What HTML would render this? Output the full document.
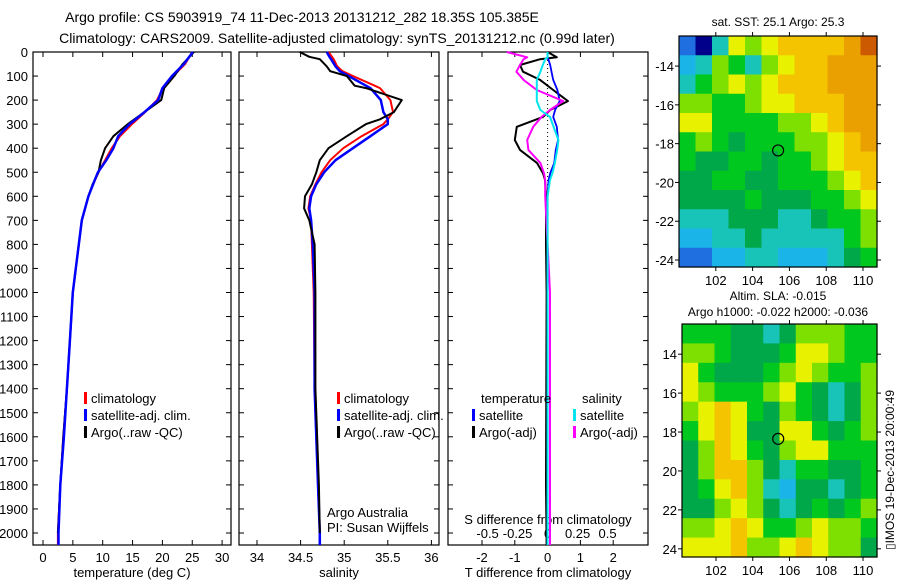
<!DOCTYPE html>
<html><head><meta charset="utf-8"><style>
body{margin:0;background:#fff}
svg{display:block;font-family:"Liberation Sans",sans-serif}
</style></head><body>
<svg id="c" width="900" height="580" viewBox="0 0 900 580" xmlns="http://www.w3.org/2000/svg">
<text x="302" y="22" font-size="14" text-anchor="middle">Argo profile: CS 5903919_74 11-Dec-2013 20131212_282 18.35S 105.385E</text>
<text x="337" y="43" font-size="14" text-anchor="middle">Climatology: CARS2009. Satellite-adjusted climatology: synTS_20131212.nc (0.99d later)</text>
<text x="778" y="26" font-size="12" text-anchor="middle">sat. SST: 25.1  Argo: 25.3</text>
<text x="778" y="300" font-size="12" text-anchor="middle">Altim. SLA: -0.015</text>
<text x="778" y="316" font-size="12" text-anchor="middle">Argo h1000: -0.022 h2000: -0.036</text>
<text transform="translate(894,550) rotate(-90)" font-size="12">▯IMOS 19-Dec-2013 20:00:49</text>
</svg>
<script>
// ---- profile data ----
const tDepth=[0,50,100,150,200,250,300,350,400,450,500,550,600,700,800,900,1000,1200,1400,1600,1800,2000,2050];
const tClim=[25,23.8,21.8,20.1,19.1,17.1,14.9,12.9,11.5,10.4,9.3,8.4,7.6,6.5,6.0,5.5,5.0,4.5,4.0,3.4,2.9,2.5,2.5];
const tSat=[25.1,23.6,21.6,20.0,19.3,17.0,14.5,12.6,11.8,10.6,9.2,8.4,7.6,6.5,6.0,5.5,5.0,4.5,4.0,3.5,2.9,2.6,2.6];
const tArgo=[25.3,23.4,22.0,20.3,19.8,17.0,14.2,11.8,10.4,9.7,9.3,8.3,7.6,6.5,6.0,5.5,5.0,4.5,4.0,3.4,2.9,2.5];
const sDepth=[0,20,30,60,80,100,140,150,200,250,280,300,350,400,450,500,550,600,650,700,800,1000,1400,1800,2000,2050];
const sClim=[34.82,34.86,34.88,34.92,34.98,35.1,35.35,35.41,35.53,35.56,35.5,35.45,35.2,34.99,34.84,34.74,34.67,34.61,34.59,34.62,34.63,34.65,34.66,34.70,34.72,34.72];
const sSat=[34.8,34.83,34.85,34.9,34.95,35.05,35.25,35.3,35.42,35.45,35.5,35.5,35.3,35.1,34.9,34.77,34.68,34.62,34.6,34.62,34.64,34.66,34.66,34.70,34.72,34.72];
const sArgo=[34.49,34.6,34.72,34.8,34.84,35.03,35.12,35.25,35.66,35.57,35.41,35.25,35.03,34.82,34.72,34.68,34.63,34.55,34.54,34.6,34.66,34.67,34.67,34.71,34.72];
const dDepth=[0,22,30,54,82,116,158,204,241,270,311,366,407,462,504,532,600,800,1000,1400,1800,2050];
const dTArgo=[0.0,0.28,-0.23,-0.84,-0.75,-0.23,0.17,0.62,0.08,-0.14,-0.94,-1.0,-0.84,-0.32,-0.14,-0.08,-0.05,-0.05,-0.03,-0.04,-0.05,-0.03];
const dTSat=[0,0,0.02,0.08,0.12,0.17,0.3,0.37,0.23,0.17,0.28,0.32,0.25,0.2,0.08,0.03,0,0,0,0,0,0];
const dSArgo=[-0.34,-0.17,-0.2,-0.23,-0.26,-0.2,-0.09,0.13,0.02,-0.05,-0.12,-0.17,-0.16,-0.06,-0.03,-0.02,-0.02,0.0,0.02,0.02,0.02,0.02];
const dSSat=[0,0,-0.02,-0.04,-0.06,-0.09,-0.09,-0.09,-0.06,0.02,0.05,0.09,0.08,0.06,0.04,0.02,0.0,0,0,0,0,0];
const depthTicks=[0,100,200,300,400,500,600,700,800,900,1000,1100,1200,1300,1400,1500,1600,1700,1800,1900,2000];
const tTicks=[0,5,10,15,20,25,30];
const sTicks=[34,34.5,35,35.5,36];
const sTickLabels=["34","34.5","35","35.5","36"];
const dTTicks=[-2,-1,0,1,2];
const dSTicks=[-0.5,-0.25,0,0.25,0.5];
const dSTickLabels=["-0.5","-0.25","0","0.25","0.5"];
// ---- map data (colour class 0..10) ----
const sstGrid=[
[1,0,3,7,6,7,8,8,8,8,9,10],
[2,3,6,5,3,6,7,8,8,9,9,9],
[3,5,6,7,6,7,8,8,8,9,9,9],
[6,6,5,5,6,7,7,8,8,8,9,9],
[7,7,5,5,5,5,6,6,7,8,9,9],
[5,6,5,4,5,5,5,6,6,7,8,9],
[5,4,4,5,5,4,5,5,6,7,8,8],
[4,4,5,5,4,4,5,5,5,6,7,8],
[4,4,4,4,5,4,4,4,5,5,6,7],
[3,3,3,4,4,4,3,3,4,5,5,6],
[2,2,3,3,4,3,3,3,3,3,5,6],
[1,1,2,2,3,3,2,2,2,3,4,5]];
const slaGrid=[
[5,5,5,4,4,3,4,6,6,6,5,5],
[6,6,5,4,4,4,5,7,7,6,5,5],
[7,5,4,4,4,5,6,7,6,5,5,6],
[7,6,5,5,5,6,7,5,4,3,4,6],
[6,7,8,7,5,4,6,5,4,3,4,6],
[5,7,8,7,4,4,7,7,5,4,5,6],
[4,6,8,7,5,4,6,7,7,5,5,5],
[4,6,8,8,6,4,3,5,5,4,4,5],
[4,5,7,8,6,3,2,4,4,3,4,5],
[4,4,6,7,6,4,3,4,5,4,5,6],
[6,6,7,8,7,5,5,6,7,6,6,5],
[7,7,7,8,6,6,7,8,7,6,6,4]];
const lonTicks=[102,104,106,108,110];
const sstLatTicks=[-14,-16,-18,-20,-22,-24];
const slaLatTicks=[14,16,18,20,22,24];
const slaLatLabels=["14","16","18","20","22","24"];
const argoLon=105.385, argoLat=-18.35;

const svg=document.getElementById('c');
const NS='http://www.w3.org/2000/svg';
function mk(tag,attrs,parent){const e=document.createElementNS(NS,tag);for(const k in attrs)e.setAttribute(k,attrs[k]);(parent||svg).appendChild(e);return e;}
const Y0=52, YS=0.2405;
const yD=d=>Y0+d*YS;
const PT={l:33,r:231,top:52,bot:545}, PS={l:239,r:439,top:52,bot:545}, PD={l:448,r:648,top:52,bot:545};
const xT=v=>43+5.97*v, xS=v=>257+87.2*(v-34), xDT=v=>547.6+32.8*v, xDS=v=>547.6+120*v;

function frame(p,name){const r=mk('rect',{x:p.l,y:p.top,width:p.r-p.l,height:p.bot-p.top,fill:'none',stroke:'#000','stroke-width':1.2});}
function line(xs,ds,fx,color,w,name){let pts=xs.map((v,i)=>fx(v).toFixed(1)+','+yD(ds[i]).toFixed(1)).join(' ');const e=mk('polyline',{points:pts,fill:'none',stroke:color,'stroke-width':w,'stroke-linejoin':'round'});}
function txt(x,y,s,sz,anchor,name){const e=mk('text',{x:x,y:y,'font-size':sz,'text-anchor':anchor||'start'});e.textContent=s;return e;}

[[PT,'temperature-panel'],[PS,'salinity-panel'],[PD,'difference-panel']].forEach(([p,n])=>{
  frame(p,n);
  depthTicks.forEach(d=>{mk('line',{x1:p.l,x2:p.l+5,y1:yD(d),y2:yD(d),stroke:'#000'});mk('line',{x1:p.r-5,x2:p.r,y1:yD(d),y2:yD(d),stroke:'#000'});});
});
depthTicks.forEach(d=>txt(28,yD(d)+5,String(d),13,'end','depth-tick-label'));
function xticks(p,ticks,f,labels,name,ly){ticks.forEach((t,i)=>{const x=f(t);mk('line',{x1:x,x2:x,y1:p.top,y2:p.top+5,stroke:'#000'});mk('line',{x1:x,x2:x,y1:p.bot-5,y2:p.bot,stroke:'#000'});txt(x,ly||562,labels?labels[i]:String(t),13,'middle',name);});}
xticks(PT,tTicks,xT,null,'temperature-tick-label');
xticks(PS,sTicks,xS,sTickLabels,'salinity-tick-label');
xticks(PD,dTTicks,xDT,null,'t-diff-tick-label');
dSTicks.forEach((t,i)=>txt(xDS(t),538,dSTickLabels[i],13,'middle','s-diff-tick-label'));
txt(132,577,'temperature (deg C)',13,'middle','temperature-axis-title');
txt(339,577,'salinity',13,'middle','salinity-axis-title');
txt(548,577,'T difference from climatology',13,'middle','t-diff-axis-title');
txt(548,524,'S difference from climatology',13,'middle','s-diff-axis-title');

const z=mk('line',{x1:xDT(0),x2:xDT(0),y1:yD(0),y2:PD.bot,stroke:'#000','stroke-dasharray':'1,3'});

line(tClim,tDepth,xT,'#ff0000',2,'temperature-climatology-line');
line(tArgo,tDepth.slice(0,tArgo.length),xT,'#000',2,'temperature-argo-line');
line(tSat,tDepth,xT,'#0000ff',2.5,'temperature-satellite-line');
line(sClim,sDepth,xS,'#ff0000',2,'salinity-climatology-line');
line(sSat,sDepth,xS,'#0000ff',2.5,'salinity-satellite-line');
line(sArgo,sDepth.slice(0,sArgo.length),xS,'#000',2,'salinity-argo-line');
line(dTArgo,dDepth,xDT,'#000',2,'t-diff-argo-line');
line(dTSat,dDepth,xDT,'#0000ff',1.8,'t-diff-satellite-line');
line(dSArgo,dDepth,xDS,'#ff00ff',2,'s-diff-argo-line');
line(dSSat,dDepth,xDS,'#00e5ee',2,'s-diff-satellite-line');

function leg(x,y,color,label,name){const r=mk('rect',{x:x,y:y-11,width:3,height:12,fill:color});txt(x+7,y,label,13,'start',name);}
leg(84,403,'#ff0000','climatology','legend-t-climatology');
leg(84,420,'#0000ff','satellite-adj. clim.','legend-t-satellite');
leg(84,437,'#000','Argo(..raw -QC)','legend-t-argo');
leg(337,403,'#ff0000','climatology','legend-s-climatology');
leg(337,420,'#0000ff','satellite-adj. clim.','legend-s-satellite');
leg(337,437,'#000','Argo(..raw -QC)','legend-s-argo');
txt(481,403,'temperature',13,'start','legend-temperature-heading');
txt(582,403,'salinity',13,'start','legend-salinity-heading');
leg(472,420,'#0000ff','satellite','legend-dt-satellite');
leg(472,437,'#000','Argo(-adj)','legend-dt-argo');
leg(573,420,'#00e5ee','satellite','legend-ds-satellite');
leg(573,437,'#ff00ff','Argo(-adj)','legend-ds-argo');
txt(327,517,'Argo Australia',13,'start','institution-label');
txt(327,532,'PI: Susan Wijffels',13,'start','pi-label');

const pal=['#00008b','#1f6fe0','#1ab4e8','#18c4b8','#00a84a','#00c81e','#7ee000','#e8f200','#f5c400','#eaa000','#cc5a00'];
function map(M,grid,latTicks,latLabels,name,latSign){
  const lx=v=>M.x0+(v-M.lon0)*(M.x1-M.x0)/(M.lon1-M.lon0);
  const ly=v=>M.y0+(v-M.lat0)*(M.y1-M.y0)/(M.lat1-M.lat0);
  const nr=grid.length,nc=grid[0].length,cw=(M.x1-M.x0)/nc,ch=(M.y1-M.y0)/nr;
  grid.forEach((row,i)=>row.forEach((v,j)=>{const c=mk('rect',{x:M.x0+j*cw,y:M.y0+i*ch,width:cw+0.6,height:ch+0.6,fill:pal[v]});}));
  const f=mk('rect',{x:M.x0,y:M.y0,width:M.x1-M.x0,height:M.y1-M.y0,fill:'none',stroke:'#000','stroke-width':1.2});
  lonTicks.forEach(t=>{const x=lx(t);mk('line',{x1:x,x2:x,y1:M.y0-4,y2:M.y0,stroke:'#000'});mk('line',{x1:x,x2:x,y1:M.y1,y2:M.y1+4,stroke:'#000'});txt(x,M.y1+18,String(t),13,'middle',name+'-lon-label');});
  latTicks.forEach((t,i)=>{const y=ly(t*latSign);mk('line',{x1:M.x0-4,x2:M.x0,y1:y,y2:y,stroke:'#000'});mk('line',{x1:M.x1,x2:M.x1+4,y1:y,y2:y,stroke:'#000'});txt(M.x0-5,y+5,latLabels?latLabels[i]:String(t),13,'end',name+'-lat-label');});
  const c=mk('circle',{cx:lx(argoLon),cy:ly(argoLat),r:5.5,fill:'none',stroke:'#000','stroke-width':1.2});
}
map({x0:679,x1:877,y0:36,y1:267,lon0:100,lon1:110.76,lat0:-12.45,lat1:-24.36},sstGrid,sstLatTicks,null,'sst-map',1);
map({x0:682,x1:877,y0:324,y1:557,lon0:100.15,lon1:110.76,lat0:-12.45,lat1:-24.42},slaGrid,slaLatTicks,slaLatLabels,'sla-map',-1);
</script>
</body></html>
